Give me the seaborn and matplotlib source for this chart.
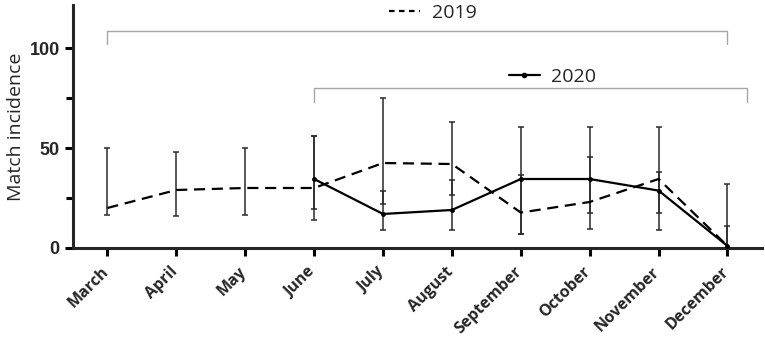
import numpy as np
import pandas as pd
import matplotlib
matplotlib.use("Agg")
import matplotlib.pyplot as plt
import matplotlib.transforms as mtransforms
import seaborn as sns
from matplotlib.lines import Line2D

sns.set_style("ticks")
plt.rcParams['font.family'] = ['Open Sans', 'DejaVu Sans']

months = ['March', 'April', 'May', 'June', 'July', 'August',
          'September', 'October', 'November', 'December']

# 2019 (dashed) - value and error bar range
y2019 = [20, 29, 30, 30, 42.5, 42, 17.7, 23, 34.5, 1]
lo2019 = [16.5, 16, 16.5, 19.5, 22, 26.5, 7, 9.5, 17.7, 0]
hi2019 = [50, 48, 50, 56, 75, 63, 36.5, 45.3, 60.3, 32]

# 2020 (solid) - only June to December
months2020 = ['June', 'July', 'August', 'September', 'October', 'November', 'December']
y2020 = [34.5, 17, 19, 34.5, 34.5, 28.7, 1]
lo2020 = [14, 9, 9, 7, 17.7, 9, 0]
hi2020 = [56, 28.7, 34, 60.3, 60.3, 38, 11]

# bracket heights (top, foot) for the two legend groups
bracket2019 = (108.5, 102)
bracket2020 = (80, 73)

x19 = np.arange(len(months))
x20 = np.array([months.index(m) for m in months2020])
df19 = pd.DataFrame({'x': x19, 'y': y2019, 'year': '2019'})
df20 = pd.DataFrame({'x': x20, 'y': y2020, 'year': '2020'})

fig = plt.figure(figsize=(7.65, 3.42), dpi=100)
ax = fig.add_axes([0.0954, 0.275, 0.9006, 0.71])

# error bars
ax.errorbar(x19, y2019, yerr=[np.array(y2019) - lo2019, np.array(hi2019) - y2019],
            fmt='none', ecolor='#2a2a2a', elinewidth=1.1, capsize=2, capthick=1.1, zorder=2)
ax.errorbar(x20, y2020, yerr=[np.array(y2020) - lo2020, np.array(hi2020) - y2020],
            fmt='none', ecolor='#2a2a2a', elinewidth=1.1, capsize=2, capthick=1.1, zorder=2)

# lines
sns.lineplot(data=df19, x='x', y='y', style='year', dashes=[(5, 3)], ax=ax,
             color='black', linewidth=1.6, legend=False, zorder=3)
sns.lineplot(data=df20, x='x', y='y', ax=ax, color='black', linewidth=1.6,
             marker='o', markersize=3.5, markeredgewidth=0, legend=False, zorder=4)

# brackets
gray = '#a6a6a6'
top, foot = bracket2019
ax.plot([x19[0], x19[0], x19[-1], x19[-1]], [foot, top, top, foot], color=gray, lw=1, clip_on=False)
top, foot = bracket2020
ax.plot([x20[0], x20[0], x20[-1] + 0.28, x20[-1] + 0.28], [foot, top, top, foot], color=gray, lw=1, clip_on=False)

# legend labels
h19 = Line2D([], [], color='black', lw=1.6, linestyle=(0, (2.5, 2)))
h20 = Line2D([], [], color='black', lw=1.6, marker='o', markersize=3)
leg1 = ax.legend([h19], ['2019'], loc='center', bbox_to_anchor=(0.5225, 0.968),
                 frameon=False, fontsize=14, handlelength=1.6, handletextpad=0.6)
ax.add_artist(leg1)
ax.legend([h20], ['2020'], loc='center', bbox_to_anchor=(0.696, 0.705),
          frameon=False, fontsize=14, handlelength=1.6, handletextpad=0.6)

ax.set_xlim(-0.5, 9.5)
ax.set_ylim(0, 121.5)
ax.set_xticks(x19)
ax.set_xticklabels(months, rotation=45, ha='right', rotation_mode='anchor',
                   fontsize=11.5, fontweight='bold')
ax.set_yticks([0, 50, 100])
ax.set_yticks([25, 75], minor=True)
for lab in ax.get_yticklabels():
    lab.set_fontfamily('Liberation Sans')
    lab.set_fontweight('bold')
    lab.set_fontsize(13)
ax.set_xlabel('')
ax.set_ylabel('Match incidence', fontsize=14, labelpad=3)

sns.despine(ax=ax)
for s in ['left', 'bottom']:
    ax.spines[s].set_linewidth(2.2)
ax.tick_params(axis='both', which='major', width=2.2, length=6, color='black')
ax.tick_params(axis='y', which='minor', width=2.2, length=5, color='black')
ax.tick_params(axis='x', pad=2)

# nudge month labels down-left (after tick_params, which resets transforms)
shift = mtransforms.ScaledTranslation(-7 / 100, -5 / 100, fig.dpi_scale_trans)
for lab in ax.get_xticklabels():
    lab.set_transform(lab.get_transform() + shift)

fig.savefig('out.png', dpi=100)
